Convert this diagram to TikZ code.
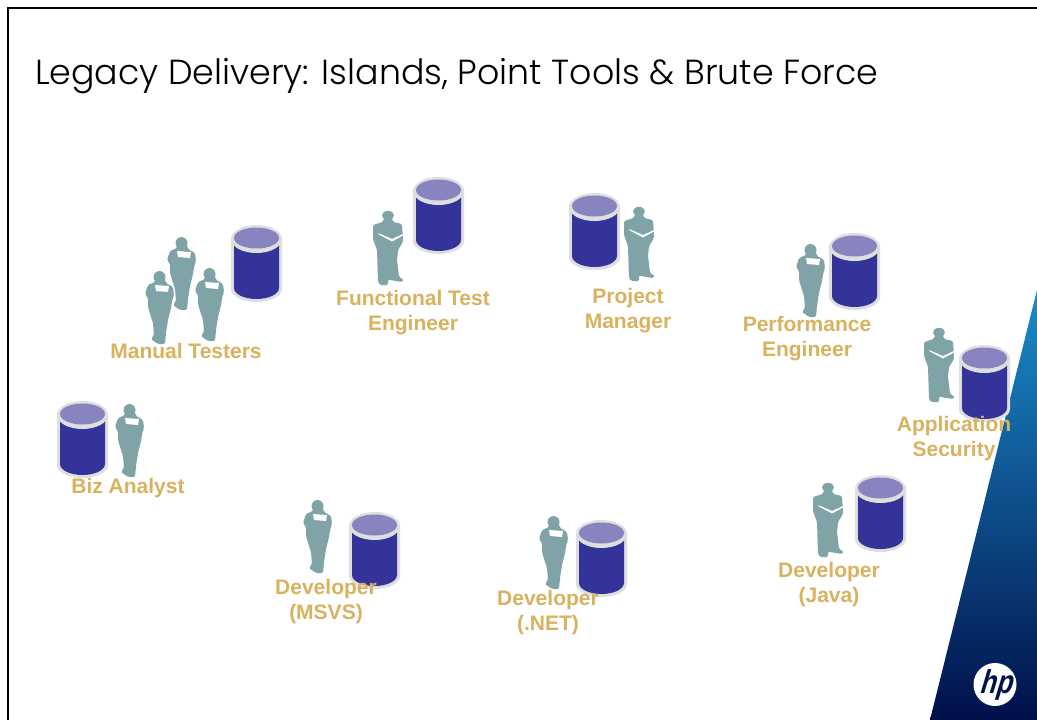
\documentclass[tikz,border=0pt]{standalone}
\usepackage{fontspec}
\setmainfont{Liberation Sans}
\newfontfamily\titlefont{Poppins Light}
\newfontfamily\logofont[FakeSlant=0.3,FakeStretch=0.8]{Liberation Sans Bold}
\definecolor{drumblue}{HTML}{333399}
\definecolor{drumtop}{HTML}{8884C0}
\definecolor{drumrim}{HTML}{DEDEDE}
\definecolor{figcol}{HTML}{7FA3A6}
\definecolor{labelcol}{HTML}{D9B25F}
\definecolor{cornerblue}{HTML}{1B8CCB}
\definecolor{cornermid}{HTML}{0B4080}
\definecolor{cornernavy}{HTML}{00104A}
\tikzset{
	rolelabel/.style={text=labelcol,font=\bfseries\fontsize{21}{25}\selectfont,align=center,inner sep=0pt},
	drum/.pic={
		\path[fill=drumrim] (0,13)--(0,64) arc[start angle=180,end angle=0,x radius=25.5,y radius=13]--(51,13)--cycle;
		\path[fill=drumblue] (3,16)--(3,63) arc[start angle=180,end angle=0,x radius=22.5,y radius=11]--(48,16)--cycle;
		\path[fill=drumrim] (25.5,14) ellipse[x radius=25.5,y radius=14];
		\path[fill=drumtop] (25.5,13) ellipse[x radius=22.5,y radius=10.5];
	},
	man/.pic={
		\path[fill=figcol] (16,4.5) ellipse[x radius=6,y radius=4.7];
		\path[fill=figcol,rounded corners=1.5pt] (12,7)--(20,7)--(21,11)--(30,13)--(31,28)--(31,31)--(26,39)--(25,49)--(27,66)--(32,69)--(30,71)--(18,69)--(16,68)--(16,74)--(8,74)--(6,71)--(5,39)--(1,28)--(1,14)--(11,11)--cycle;
		\path[fill=white] (6,22)--(20,28)--(31,23)--(31,24.5)--(20,30.5)--(7,23.5)--cycle;
	},
	woman/.pic={
		\path[fill=figcol] (14.5,6) ellipse[x radius=6,y radius=6];
		\path[fill=figcol,rounded corners=1.5pt] (10,8)--(20,8)--(21,12)--(28,16)--(29,24)--(27,30)--(26,37)--(23,49)--(21,62)--(20,73)--(13,73)--(6,68)--(9,64)--(8,52)--(6,46)--(3,36)--(3,27)--(0,23)--(3,14)--(10,11)--cycle;
		\path[fill=white] (10,14)--(24,15)--(23,21)--(11,20)--cycle;
	},
}
\begin{document}
\begin{tikzpicture}[x=1pt,y=-1pt]
	\useasboundingbox (0,0) rectangle (1037,720);
	\fill[white] (0,0) rectangle (1037,720);
	%frame and corner
	\draw[line width=2.5pt] (8,720)--(8,8)--(1037,8);
	\shade[top color=cornerblue,middle color=cornermid,bottom color=cornernavy] (1037,290)--(930,720)--(1037,720)--cycle;
	\fill[white] (995,684.5) circle(21.5);
	\node[anchor=base,inner sep=0pt,font=\logofont\fontsize{33}{33}\selectfont,text=cornernavy] (logo) at (995,693) {hp};
	\node[anchor=west,inner sep=0pt,font=\titlefont\fontsize{34.8}{40}\selectfont] (title) at (35,76) {Legacy Delivery: Islands, Point Tools \& Brute Force};
	%drums
	\path (231,225)pic{drum} (413,177)pic{drum} (569,193)pic{drum} (829,233)pic{drum} (959,345)pic{drum};
	\path (57,401)pic{drum} (349,512)pic{drum} (576,520)pic{drum} (855,475)pic{drum};
	%people
	\path (167,237)pic{woman} (145,271)pic{woman} (195,268)pic{woman} (796,244)pic{woman};
	\path (115,404)pic{woman} (303,500)pic{woman} (539,516)pic{woman};
	\path (372,211)pic{man} (923,328)pic{man} (812,483)pic{man} (623,207)pic{man};
	%labels
	\node[rolelabel] (testers) at (186,351) {Manual Testers};
	\node[rolelabel] (functional) at (413,312.5) {Functional Test\\Engineer};
	\node[rolelabel] (manager) at (628,310.5) {Project\\Manager};
	\node[rolelabel] (performance) at (807,338.5) {Performance\\Engineer};
	\node[rolelabel] (security) at (954,438.5) {Application\\Security};
	\node[rolelabel] (analyst) at (128,488.5) {Biz Analyst};
	\node[rolelabel] (msvs) at (326,602) {Developer\\(MSVS)};
	\node[rolelabel] (dotnet) at (548,612.5) {Developer\\(.NET)};
	\node[rolelabel] (java) at (829,584.5) {Developer\\(Java)};
\end{tikzpicture}
\end{document}
